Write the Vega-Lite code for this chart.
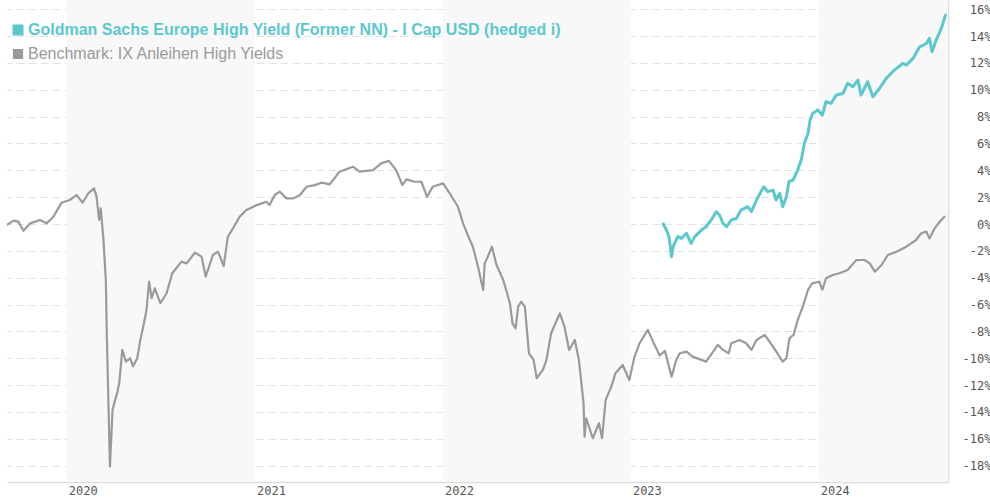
{
  "$schema": "https://vega.github.io/schema/vega-lite/v6.json",
  "width": 941,
  "height": 482,
  "autosize": {"type": "none"},
  "padding": {"left": 7, "top": 0, "right": 42, "bottom": 18},
  "background": "white",
  "config": {"view": {"stroke": null}},
  "datasets": {
    "bands": [
      {"a": "2020-01-01", "b": "2021-01-01"},
      {"a": "2022-01-01", "b": "2023-01-01"},
      {"a": "2024-01-01", "b": "2024-09-08"}
    ],
    "perf": [
      {"d": "2019-09-07", "s": "b", "v": -0.05},
      {"d": "2019-09-20", "s": "b", "v": 0.25},
      {"d": "2019-09-29", "s": "b", "v": 0.18},
      {"d": "2019-10-09", "s": "b", "v": -0.5},
      {"d": "2019-10-22", "s": "b", "v": 0.05},
      {"d": "2019-11-10", "s": "b", "v": 0.3},
      {"d": "2019-11-23", "s": "b", "v": 0.05},
      {"d": "2019-12-06", "s": "b", "v": 0.54},
      {"d": "2019-12-22", "s": "b", "v": 1.59},
      {"d": "2020-01-07", "s": "b", "v": 1.79},
      {"d": "2020-01-20", "s": "b", "v": 2.16},
      {"d": "2020-02-01", "s": "b", "v": 1.59},
      {"d": "2020-02-12", "s": "b", "v": 2.29},
      {"d": "2020-02-23", "s": "b", "v": 2.66},
      {"d": "2020-02-28", "s": "b", "v": 2.03},
      {"d": "2020-03-04", "s": "b", "v": 0.3},
      {"d": "2020-03-07", "s": "b", "v": 1.17},
      {"d": "2020-03-12", "s": "b", "v": -0.94},
      {"d": "2020-03-17", "s": "b", "v": -4.17},
      {"d": "2020-03-19", "s": "b", "v": -8.4},
      {"d": "2020-03-22", "s": "b", "v": -13.3},
      {"d": "2020-03-25", "s": "b", "v": -18.07},
      {"d": "2020-03-30", "s": "b", "v": -13.85},
      {"d": "2020-04-04", "s": "b", "v": -13.1},
      {"d": "2020-04-08", "s": "b", "v": -12.6},
      {"d": "2020-04-12", "s": "b", "v": -11.86},
      {"d": "2020-04-18", "s": "b", "v": -9.38},
      {"d": "2020-04-25", "s": "b", "v": -10.25},
      {"d": "2020-05-03", "s": "b", "v": -10.0},
      {"d": "2020-05-09", "s": "b", "v": -10.6},
      {"d": "2020-05-17", "s": "b", "v": -10.0},
      {"d": "2020-05-23", "s": "b", "v": -8.64},
      {"d": "2020-05-30", "s": "b", "v": -7.4},
      {"d": "2020-06-04", "s": "b", "v": -6.4},
      {"d": "2020-06-09", "s": "b", "v": -4.3},
      {"d": "2020-06-14", "s": "b", "v": -5.53},
      {"d": "2020-06-20", "s": "b", "v": -4.79},
      {"d": "2020-07-01", "s": "b", "v": -5.9},
      {"d": "2020-07-13", "s": "b", "v": -5.16},
      {"d": "2020-07-24", "s": "b", "v": -3.67},
      {"d": "2020-08-11", "s": "b", "v": -2.8},
      {"d": "2020-08-21", "s": "b", "v": -2.93},
      {"d": "2020-09-06", "s": "b", "v": -2.13},
      {"d": "2020-09-19", "s": "b", "v": -2.43},
      {"d": "2020-09-27", "s": "b", "v": -3.92},
      {"d": "2020-10-11", "s": "b", "v": -2.31},
      {"d": "2020-10-21", "s": "b", "v": -2.06},
      {"d": "2020-11-01", "s": "b", "v": -3.13},
      {"d": "2020-11-09", "s": "b", "v": -0.94},
      {"d": "2020-11-19", "s": "b", "v": -0.32},
      {"d": "2020-12-02", "s": "b", "v": 0.54},
      {"d": "2020-12-15", "s": "b", "v": 1.04},
      {"d": "2021-01-04", "s": "b", "v": 1.41},
      {"d": "2021-01-23", "s": "b", "v": 1.66},
      {"d": "2021-01-29", "s": "b", "v": 1.41},
      {"d": "2021-02-08", "s": "b", "v": 2.16},
      {"d": "2021-02-18", "s": "b", "v": 2.41},
      {"d": "2021-03-03", "s": "b", "v": 1.91},
      {"d": "2021-03-16", "s": "b", "v": 1.91},
      {"d": "2021-03-29", "s": "b", "v": 2.16},
      {"d": "2021-04-11", "s": "b", "v": 2.78},
      {"d": "2021-04-27", "s": "b", "v": 2.9},
      {"d": "2021-05-10", "s": "b", "v": 3.08},
      {"d": "2021-05-26", "s": "b", "v": 2.95},
      {"d": "2021-06-14", "s": "b", "v": 3.9},
      {"d": "2021-07-10", "s": "b", "v": 4.27},
      {"d": "2021-07-23", "s": "b", "v": 3.9},
      {"d": "2021-08-18", "s": "b", "v": 4.02},
      {"d": "2021-09-03", "s": "b", "v": 4.52},
      {"d": "2021-09-18", "s": "b", "v": 4.71},
      {"d": "2021-10-02", "s": "b", "v": 4.02},
      {"d": "2021-10-14", "s": "b", "v": 2.9},
      {"d": "2021-10-22", "s": "b", "v": 3.33},
      {"d": "2021-11-07", "s": "b", "v": 3.15},
      {"d": "2021-11-20", "s": "b", "v": 3.15},
      {"d": "2021-12-01", "s": "b", "v": 2.03},
      {"d": "2021-12-12", "s": "b", "v": 2.78},
      {"d": "2022-01-01", "s": "b", "v": 3.03},
      {"d": "2022-01-14", "s": "b", "v": 2.29},
      {"d": "2022-01-30", "s": "b", "v": 1.29},
      {"d": "2022-02-09", "s": "b", "v": 0.05},
      {"d": "2022-02-18", "s": "b", "v": -0.82},
      {"d": "2022-02-28", "s": "b", "v": -1.69},
      {"d": "2022-03-10", "s": "b", "v": -3.18},
      {"d": "2022-03-20", "s": "b", "v": -4.91},
      {"d": "2022-03-23", "s": "b", "v": -2.93},
      {"d": "2022-03-29", "s": "b", "v": -2.43},
      {"d": "2022-04-06", "s": "b", "v": -1.69},
      {"d": "2022-04-15", "s": "b", "v": -3.05},
      {"d": "2022-04-28", "s": "b", "v": -4.17},
      {"d": "2022-05-11", "s": "b", "v": -5.9},
      {"d": "2022-05-16", "s": "b", "v": -7.4},
      {"d": "2022-05-22", "s": "b", "v": -7.77},
      {"d": "2022-05-27", "s": "b", "v": -6.16},
      {"d": "2022-06-02", "s": "b", "v": -5.79},
      {"d": "2022-06-09", "s": "b", "v": -6.16},
      {"d": "2022-06-17", "s": "b", "v": -9.63},
      {"d": "2022-06-26", "s": "b", "v": -10.13},
      {"d": "2022-07-02", "s": "b", "v": -11.49},
      {"d": "2022-07-14", "s": "b", "v": -10.87},
      {"d": "2022-07-21", "s": "b", "v": -10.13},
      {"d": "2022-07-30", "s": "b", "v": -8.14},
      {"d": "2022-08-16", "s": "b", "v": -6.65},
      {"d": "2022-08-25", "s": "b", "v": -7.65},
      {"d": "2022-09-03", "s": "b", "v": -9.38},
      {"d": "2022-09-14", "s": "b", "v": -8.64},
      {"d": "2022-09-22", "s": "b", "v": -10.13},
      {"d": "2022-10-01", "s": "b", "v": -13.35},
      {"d": "2022-10-03", "s": "b", "v": -15.84},
      {"d": "2022-10-06", "s": "b", "v": -14.47},
      {"d": "2022-10-19", "s": "b", "v": -15.96},
      {"d": "2022-10-31", "s": "b", "v": -14.84},
      {"d": "2022-11-06", "s": "b", "v": -15.96},
      {"d": "2022-11-13", "s": "b", "v": -13.1},
      {"d": "2022-11-24", "s": "b", "v": -12.11},
      {"d": "2022-12-02", "s": "b", "v": -11.12},
      {"d": "2022-12-16", "s": "b", "v": -10.5},
      {"d": "2022-12-29", "s": "b", "v": -11.62},
      {"d": "2023-01-08", "s": "b", "v": -9.88},
      {"d": "2023-01-18", "s": "b", "v": -8.88},
      {"d": "2023-02-03", "s": "b", "v": -7.89},
      {"d": "2023-02-13", "s": "b", "v": -8.76},
      {"d": "2023-02-26", "s": "b", "v": -9.8},
      {"d": "2023-03-08", "s": "b", "v": -9.45},
      {"d": "2023-03-21", "s": "b", "v": -11.37},
      {"d": "2023-03-30", "s": "b", "v": -10.13},
      {"d": "2023-04-06", "s": "b", "v": -9.63},
      {"d": "2023-04-19", "s": "b", "v": -9.51},
      {"d": "2023-05-01", "s": "b", "v": -9.88},
      {"d": "2023-05-27", "s": "b", "v": -10.25},
      {"d": "2023-06-19", "s": "b", "v": -9.0},
      {"d": "2023-06-29", "s": "b", "v": -9.38},
      {"d": "2023-07-10", "s": "b", "v": -9.63},
      {"d": "2023-07-15", "s": "b", "v": -8.88},
      {"d": "2023-07-31", "s": "b", "v": -8.64},
      {"d": "2023-08-13", "s": "b", "v": -8.88},
      {"d": "2023-08-23", "s": "b", "v": -9.38},
      {"d": "2023-09-02", "s": "b", "v": -8.64},
      {"d": "2023-09-18", "s": "b", "v": -8.26},
      {"d": "2023-10-04", "s": "b", "v": -9.13},
      {"d": "2023-10-23", "s": "b", "v": -10.25},
      {"d": "2023-10-30", "s": "b", "v": -10.0},
      {"d": "2023-11-05", "s": "b", "v": -8.51},
      {"d": "2023-11-13", "s": "b", "v": -8.26},
      {"d": "2023-11-21", "s": "b", "v": -7.15},
      {"d": "2023-12-01", "s": "b", "v": -6.16},
      {"d": "2023-12-11", "s": "b", "v": -4.91},
      {"d": "2023-12-19", "s": "b", "v": -4.42},
      {"d": "2024-01-02", "s": "b", "v": -4.3},
      {"d": "2024-01-08", "s": "b", "v": -4.9},
      {"d": "2024-01-15", "s": "b", "v": -4.04},
      {"d": "2024-01-28", "s": "b", "v": -3.8},
      {"d": "2024-02-10", "s": "b", "v": -3.67},
      {"d": "2024-02-26", "s": "b", "v": -3.43},
      {"d": "2024-03-14", "s": "b", "v": -2.68},
      {"d": "2024-03-30", "s": "b", "v": -2.68},
      {"d": "2024-04-09", "s": "b", "v": -2.93},
      {"d": "2024-04-19", "s": "b", "v": -3.55},
      {"d": "2024-05-02", "s": "b", "v": -3.05},
      {"d": "2024-05-14", "s": "b", "v": -2.31},
      {"d": "2024-05-31", "s": "b", "v": -2.06},
      {"d": "2024-06-19", "s": "b", "v": -1.69},
      {"d": "2024-07-08", "s": "b", "v": -1.19},
      {"d": "2024-07-18", "s": "b", "v": -0.69},
      {"d": "2024-07-28", "s": "b", "v": -0.57},
      {"d": "2024-08-03", "s": "b", "v": -1.07},
      {"d": "2024-08-13", "s": "b", "v": -0.32},
      {"d": "2024-08-23", "s": "b", "v": 0.17},
      {"d": "2024-09-01", "s": "b", "v": 0.54},
      {"d": "2023-03-05", "s": "f", "v": 0.0},
      {"d": "2023-03-11", "s": "f", "v": -0.45},
      {"d": "2023-03-16", "s": "f", "v": -0.94},
      {"d": "2023-03-21", "s": "f", "v": -2.43},
      {"d": "2023-03-24", "s": "f", "v": -1.69},
      {"d": "2023-04-02", "s": "f", "v": -0.94},
      {"d": "2023-04-09", "s": "f", "v": -1.07},
      {"d": "2023-04-19", "s": "f", "v": -0.69},
      {"d": "2023-04-28", "s": "f", "v": -1.44},
      {"d": "2023-05-05", "s": "f", "v": -0.94},
      {"d": "2023-05-18", "s": "f", "v": -0.45},
      {"d": "2023-05-27", "s": "f", "v": -0.2},
      {"d": "2023-06-06", "s": "f", "v": 0.3},
      {"d": "2023-06-16", "s": "f", "v": 0.92},
      {"d": "2023-06-22", "s": "f", "v": 0.67},
      {"d": "2023-06-29", "s": "f", "v": 0.05},
      {"d": "2023-07-06", "s": "f", "v": -0.2},
      {"d": "2023-07-15", "s": "f", "v": 0.3},
      {"d": "2023-07-25", "s": "f", "v": 0.42},
      {"d": "2023-08-03", "s": "f", "v": 1.04},
      {"d": "2023-08-16", "s": "f", "v": 1.29},
      {"d": "2023-08-23", "s": "f", "v": 0.92},
      {"d": "2023-09-02", "s": "f", "v": 1.79},
      {"d": "2023-09-16", "s": "f", "v": 2.78},
      {"d": "2023-09-24", "s": "f", "v": 2.41},
      {"d": "2023-10-04", "s": "f", "v": 2.53},
      {"d": "2023-10-10", "s": "f", "v": 1.79},
      {"d": "2023-10-17", "s": "f", "v": 2.29},
      {"d": "2023-10-23", "s": "f", "v": 1.29},
      {"d": "2023-10-30", "s": "f", "v": 2.03},
      {"d": "2023-11-04", "s": "f", "v": 3.15},
      {"d": "2023-11-12", "s": "f", "v": 3.28},
      {"d": "2023-11-21", "s": "f", "v": 4.02},
      {"d": "2023-11-28", "s": "f", "v": 4.77},
      {"d": "2023-12-04", "s": "f", "v": 6.01},
      {"d": "2023-12-11", "s": "f", "v": 6.75},
      {"d": "2023-12-15", "s": "f", "v": 7.74},
      {"d": "2023-12-20", "s": "f", "v": 8.24},
      {"d": "2023-12-30", "s": "f", "v": 8.49},
      {"d": "2024-01-08", "s": "f", "v": 8.12},
      {"d": "2024-01-15", "s": "f", "v": 9.11},
      {"d": "2024-01-25", "s": "f", "v": 8.99},
      {"d": "2024-02-04", "s": "f", "v": 9.61},
      {"d": "2024-02-17", "s": "f", "v": 9.73},
      {"d": "2024-02-26", "s": "f", "v": 10.48},
      {"d": "2024-03-07", "s": "f", "v": 10.22},
      {"d": "2024-03-17", "s": "f", "v": 10.72},
      {"d": "2024-03-23", "s": "f", "v": 9.61},
      {"d": "2024-04-05", "s": "f", "v": 10.6},
      {"d": "2024-04-15", "s": "f", "v": 9.48},
      {"d": "2024-04-28", "s": "f", "v": 10.1},
      {"d": "2024-05-11", "s": "f", "v": 10.85},
      {"d": "2024-05-27", "s": "f", "v": 11.47},
      {"d": "2024-06-12", "s": "f", "v": 11.96},
      {"d": "2024-06-19", "s": "f", "v": 11.84},
      {"d": "2024-07-02", "s": "f", "v": 12.34},
      {"d": "2024-07-15", "s": "f", "v": 13.2},
      {"d": "2024-07-28", "s": "f", "v": 13.45},
      {"d": "2024-08-03", "s": "f", "v": 13.83},
      {"d": "2024-08-08", "s": "f", "v": 12.83},
      {"d": "2024-08-16", "s": "f", "v": 13.7},
      {"d": "2024-08-26", "s": "f", "v": 14.57},
      {"d": "2024-09-03", "s": "f", "v": 15.56}
    ]
  },
  "layer": [
    {
      "data": {"name": "bands"},
      "mark": {"type": "rect", "color": "#f8f8f8", "clip": true},
      "encoding": {
        "x": {
          "field": "a",
          "type": "temporal",
          "scale": {
            "type": "utc",
            "domain": [
              {"year": 2019, "month": 9, "date": 7, "utc": true},
              {"year": 2024, "month": 9, "date": 8, "utc": true}
            ]
          },
          "axis": {
            "title": null,
            "format": "%Y",
            "tickCount": {"interval": "year", "step": 1},
            "grid": false,
            "ticks": false,
            "tickSize": 0,
            "domain": true,
            "domainColor": "#dddddd",
            "domainWidth": 1.5,
            "labelAlign": "left",
            "labelBaseline": "top",
            "labelOffset": 1.5,
            "labelPadding": 3,
            "labelFont": "DejaVu Sans Mono",
            "labelFontSize": 12,
            "labelColor": "#555555"
          }
        },
        "x2": {"field": "b"}
      }
    },
    {
      "data": {"name": "perf"},
      "mark": {"type": "line", "strokeJoin": "round", "strokeCap": "round", "clip": true},
      "encoding": {
        "x": {"field": "d", "type": "temporal"},
        "y": {
          "field": "v",
          "type": "quantitative",
          "scale": {"domain": [-19.22, 16.69], "nice": false, "zero": false},
          "axis": {
            "title": null,
            "orient": "right",
            "values": [-18, -16, -14, -12, -10, -8, -6, -4, -2, 0, 2, 4, 6, 8, 10, 12, 14, 16],
            "labelExpr": "datum.value + '%'",
            "grid": true,
            "gridColor": "#e2e2e2",
            "gridDash": [8, 4],
            "gridWidth": 1,
            "ticks": false,
            "tickSize": 0,
            "domain": true,
            "domainColor": "#dddddd",
            "domainWidth": 1.5,
            "labelAlign": "right",
            "labelPadding": 43,
            "labelFont": "DejaVu Sans Mono",
            "labelFontSize": 12,
            "labelColor": "#555555",
            "encode": {
              "labels": {
                "update": {
                  "dy": {"signal": "datum.value === -18 ? -7 : 1.5"}
                }
              }
            }
          }
        },
        "color": {
          "field": "s",
          "type": "nominal",
          "scale": {"domain": ["f", "b"], "range": ["#5bc8ce", "#9a9a9a"]},
          "legend": {
            "title": null,
            "orient": "none",
            "legendX": 3,
            "legendY": 22,
            "padding": 0,
            "symbolType": "square",
            "symbolSize": 64,
            "symbolStrokeWidth": 0,
            "labelOffset": 2,
            "rowPadding": 5,
            "labelFont": "Liberation Sans",
            "labelFontSize": 16,
            "labelLimit": 1000,
            "labelExpr": "datum.value === 'f' ? 'Goldman Sachs Europe High Yield (Former NN) - I Cap USD (hedged i)' : 'Benchmark: IX Anleihen High Yields'",
            "encode": {
              "symbols": {
                "update": {
                  "fill": {"signal": "datum.value === 'f' ? '#5bc8ce' : '#9a9a9a'"},
                  "stroke": {"value": "transparent"},
                  "shape": {"value": "square"}
                }
              },
              "labels": {
                "update": {
                  "fill": {"signal": "datum.value === 'f' ? '#5bc8ce' : '#9a9a9a'"},
                  "fontWeight": {"signal": "datum.value === 'f' ? 'bold' : 'normal'"}
                }
              }
            }
          }
        },
        "strokeWidth": {
          "field": "s",
          "type": "nominal",
          "scale": {"domain": ["f", "b"], "range": [3, 2.2]},
          "legend": null
        }
      }
    }
  ]
}
